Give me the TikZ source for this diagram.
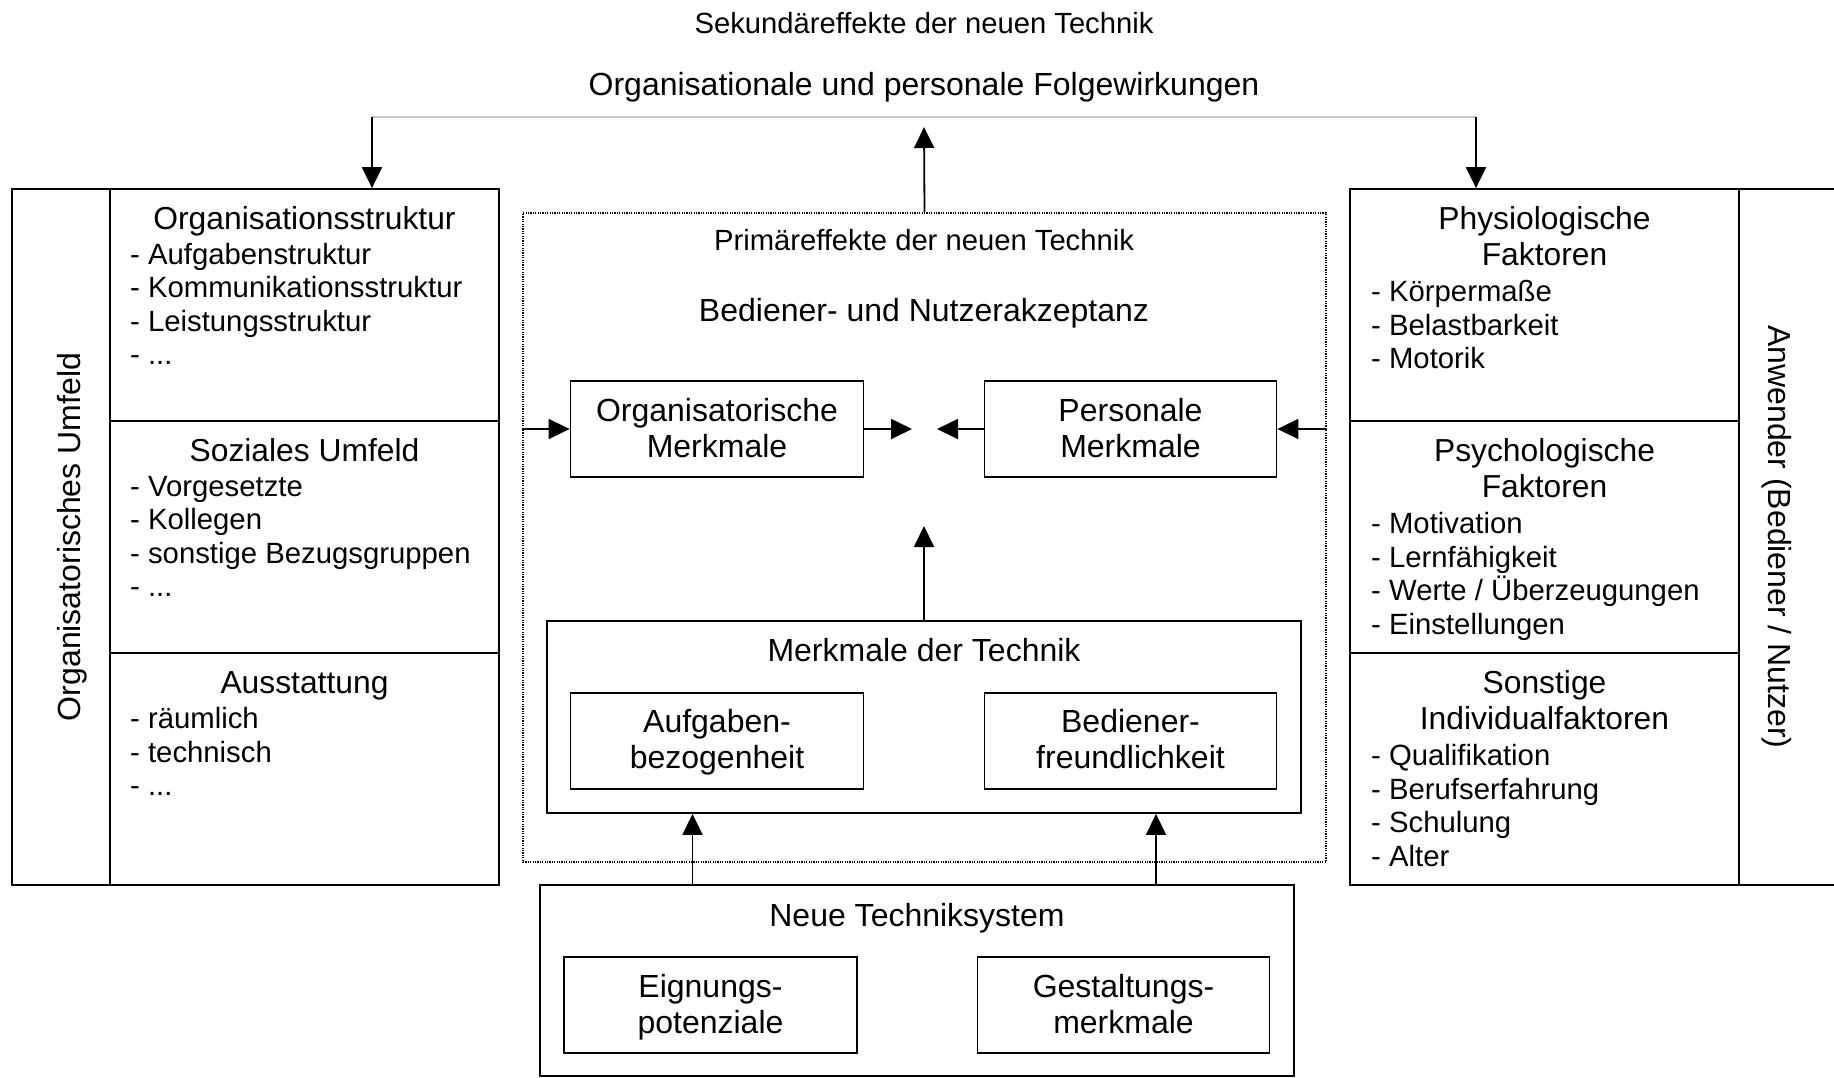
\documentclass[tikz,border=0pt]{standalone}
\usepackage{fontspec}
\setmainfont{Liberation Sans}
\usetikzlibrary{arrows.meta}

\begin{document}
\begin{tikzpicture}[x=1bp,y=-1bp,
  box/.style={draw, line width=1.8bp, inner sep=0pt},
  cell/.style={box, minimum width=389bp, minimum height=232bp},
  inbox/.style={box, minimum width=293bp, minimum height=96bp},
  lbl/.style={font=\fontsize{32bp}{36bp}\selectfont, inner sep=0pt, anchor=base},
  small/.style={font=\fontsize{29.2bp}{33bp}\selectfont, inner sep=0pt, anchor=base},
  head/.style={font=\fontsize{31.8bp}{36bp}\selectfont, inner sep=0pt, anchor=base},
  item/.style={font=\fontsize{29.3bp}{33.5bp}\selectfont, inner sep=0pt, anchor=base west},
  arr/.style={line width=1.8bp, -{Triangle[length=21bp,width=20bp]}},
  dotbox/.style={draw, line width=1.2bp, dash pattern=on 1.2bp off 1.2bp, inner sep=0pt},
  feedline/.style={draw=black!22, line width=1.3bp}
]
\useasboundingbox (0,0) rectangle (1834,1077);

% ---------- top: secondary effects ----------
\node[small] (sek) at (924,33) {Sekundäreffekte der neuen Technik};
\node[lbl] (folge) at (924,95) {Organisationale und personale Folgewirkungen};
\coordinate (gl) at (372,117);
\coordinate (gr) at (1476,117);
\draw[feedline] (gl) -- (gr);

% ---------- left panel: organisational environment ----------
\node[box, minimum width=98bp, minimum height=696bp] (lcol) at (61,537) {};
\node[lbl, rotate=90] (lcolt) at (80,537) {Organisatorisches Umfeld};
\node[cell] (l1) at (304.5,305) {};
\node[cell] (l2) at (304.5,537) {};
\node[cell] (l3) at (304.5,769) {};

\node[head] (l1h) at (304.5,229) {Organisationsstruktur};
\node[item] (l1a) at (130,264) {- Aufgabenstruktur};
\node[item] (l1b) at (130,297.5) {- Kommunikationsstruktur};
\node[item] (l1c) at (130,331) {- Leistungsstruktur};
\node[item] (l1d) at (130,364.5) {- ...};

\node[head] (l2h) at (304.5,461) {Soziales Umfeld};
\node[item] (l2a) at (130,496) {- Vorgesetzte};
\node[item] (l2b) at (130,529.5) {- Kollegen};
\node[item] (l2c) at (130,563) {- sonstige Bezugsgruppen};
\node[item] (l2d) at (130,596.5) {- ...};

\node[head] (l3h) at (304.5,693) {Ausstattung};
\node[item] (l3a) at (130,728.5) {- räumlich};
\node[item] (l3b) at (130,762) {- technisch};
\node[item] (l3c) at (130,795.5) {- ...};

% ---------- right panel: user ----------
\node[box, minimum width=97bp, minimum height=696bp] (rcol) at (1787.5,537) {};
\node[lbl, rotate=-90] (rcolt) at (1768,537) {Anwender (Bediener / Nutzer)};
\node[cell] (r1) at (1544.5,305) {};
\node[cell] (r2) at (1544.5,537) {};
\node[cell] (r3) at (1544.5,769) {};

\node[head] (r1h) at (1544.5,229) {Physiologische};
\node[head] (r1i) at (1544.5,265) {Faktoren};
\node[item] (r1a) at (1371,301.5) {- Körpermaße};
\node[item] (r1b) at (1371,335) {- Belastbarkeit};
\node[item] (r1c) at (1371,368.5) {- Motorik};

\node[head] (r2h) at (1544.5,461) {Psychologische};
\node[head] (r2i) at (1544.5,497) {Faktoren};
\node[item] (r2a) at (1371,533.5) {- Motivation};
\node[item] (r2b) at (1371,567) {- Lernfähigkeit};
\node[item] (r2c) at (1371,600.5) {- Werte / Überzeugungen};
\node[item] (r2d) at (1371,634) {- Einstellungen};

\node[head] (r3h) at (1544.5,693) {Sonstige};
\node[head] (r3i) at (1544.5,729) {Individualfaktoren};
\node[item] (r3a) at (1371,765.5) {- Qualifikation};
\node[item] (r3b) at (1371,799) {- Berufserfahrung};
\node[item] (r3c) at (1371,832.5) {- Schulung};
\node[item] (r3d) at (1371,866) {- Alter};

% ---------- centre: primary effects ----------
\node[dotbox, minimum width=803bp, minimum height=649bp] (prim) at (924.5,537.5) {};
\node[small] (primt) at (924,250.5) {Primäreffekte der neuen Technik};
\node[lbl] (akz) at (924,321) {Bediener- und Nutzerakzeptanz};

\node[inbox] (orgm) at (717,429) {};
\node[lbl] (orgm1) at (717,421) {Organisatorische};
\node[lbl] (orgm2) at (717,457) {Merkmale};
\node[inbox, minimum width=292bp] (perm) at (1130.5,429) {};
\node[lbl] (perm1) at (1130.5,421) {Personale};
\node[lbl] (perm2) at (1130.5,457) {Merkmale};
\coordinate (ml) at (912,429);
\coordinate (mr) at (937,429);
\coordinate (mup) at (924,526);

\node[box, minimum width=754bp, minimum height=192bp] (mdt) at (924,717) {};
\node[lbl] (mdtt) at (924,661) {Merkmale der Technik};
\node[inbox] (aufg) at (717,741) {};
\node[lbl] (aufg1) at (717,732) {Aufgaben-};
\node[lbl] (aufg2) at (717,768) {bezogenheit};
\node[inbox, minimum width=292bp] (bedf) at (1130.5,741) {};
\node[lbl] (bedf1) at (1130.5,732) {Bediener-};
\node[lbl] (bedf2) at (1130.5,768) {freundlichkeit};

% ---------- bottom: new technical system ----------
\node[box, minimum width=754bp, minimum height=191bp] (nts) at (917,980.5) {};
\node[lbl] (ntst) at (917,926) {Neue Techniksystem};
\node[inbox] (eign) at (710.5,1005) {};
\node[lbl] (eign1) at (710.5,997) {Eignungs-};
\node[lbl] (eign2) at (710.5,1033) {potenziale};
\node[inbox, minimum width=292bp] (gest) at (1123.5,1005) {};
\node[lbl] (gest1) at (1123.5,997) {Gestaltungs-};
\node[lbl] (gest2) at (1123.5,1033) {merkmale};

% ---------- connectors ----------
\coordinate (up1) at (692.5,0);
\coordinate (up2) at (1156,0);
\coordinate (toptip) at (924,127);
\draw[arr] (nts.north -| up1) -- (mdt.south -| up1);
\draw[arr] (nts.north -| up2) -- (mdt.south -| up2);
\draw[arr] (mdt.north) -- (mup);
\draw[arr] (prim.west |- orgm.west) -- (orgm.west);
\draw[arr] (orgm.east) -- (ml);
\draw[arr] (perm.west) -- (mr);
\draw[arr] (prim.east |- perm.east) -- (perm.east);
\draw[arr] (prim.north) -- (toptip);
\draw[arr] (gl) -- (l1.north -| gl);
\draw[arr] (gr) -- (r1.north -| gr);
\end{tikzpicture}
\end{document}
